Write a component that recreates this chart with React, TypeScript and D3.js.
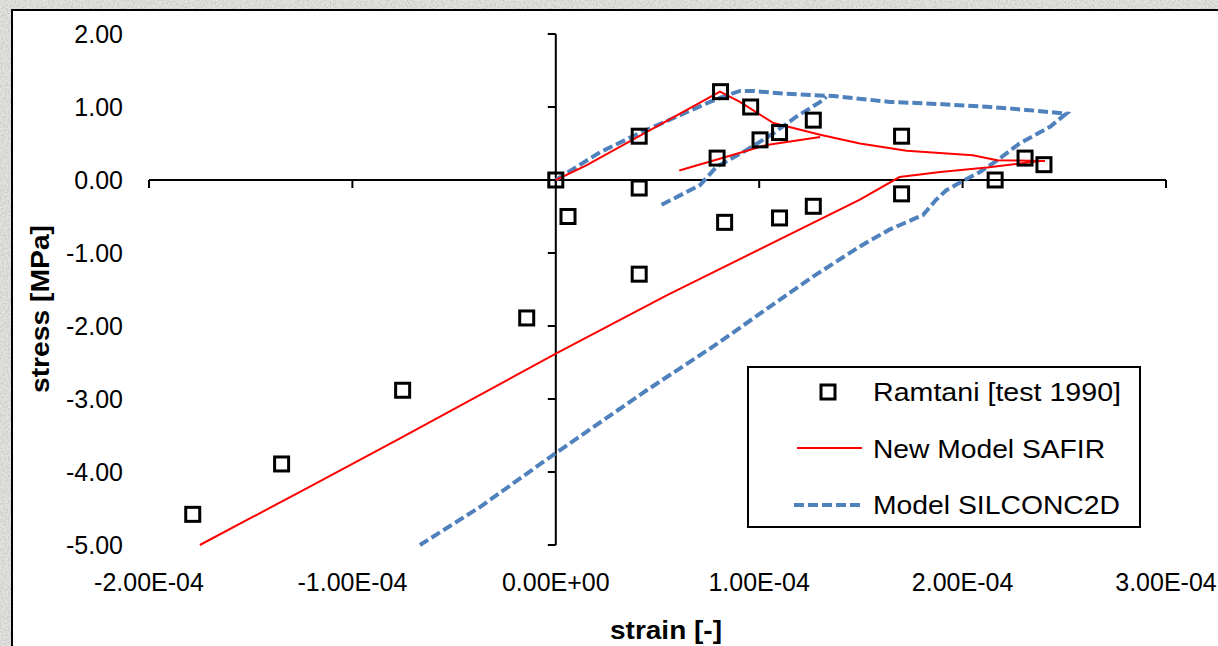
import React from 'react';
import * as d3 from 'd3';

// strain values in units of 1E-04, stress in MPa
const xTicks = [-2, -1, 0, 1, 2, 3];
const xTickLabels = ['-2.00E-04', '-1.00E-04', '0.00E+00', '1.00E-04', '2.00E-04', '3.00E-04'];
const yTicks = [2, 1, 0, -1, -2, -3, -4, -5];
const yTickLabels = ['2.00', '1.00', '0.00', '-1.00', '-2.00', '-3.00', '-4.00', '-5.00'];

const ramtaniStrain = [-1.785, -1.348, -0.753, -0.143, 0, 0.06, 0.41, 0.41, 0.41, 0.81, 0.793, 0.83, 0.958, 1.004, 1.1, 1.1, 1.266, 1.266, 1.7, 1.7, 2.16, 2.307, 2.4];
const ramtaniStress = [-4.58, -3.89, -2.88, -1.89, 0, -0.5, 0.6, -0.11, -1.29, 1.21, 0.3, -0.58, 1.0, 0.55, 0.65, -0.52, 0.82, -0.36, 0.6, -0.19, 0.0, 0.3, 0.21];

const safirStrain = [0, 0.15, 0.41, 0.807, 0.905, 1.07, 1.3, 1.495, 1.725, 2.05, 2.17, 2.405, 2.38, 2.12, 1.89, 1.69, 1.495, 0.545, 0, -0.766, -1.209, -1.75];
const safirStress = [0, 0.2, 0.6, 1.21, 1.07, 0.78, 0.62, 0.5, 0.4, 0.34, 0.27, 0.26, 0.26, 0.17, 0.11, 0.04, -0.27, -1.58, -2.38, -3.54, -4.2, -5.0];
const safirReloadStrain = [0.607, 0.793, 1.037, 1.3];
const safirReloadStress = [0.13, 0.28, 0.48, 0.59];

const silconcStrain = [0, 0.217, 0.41, 0.758, 0.84, 0.905, 0.97, 1.135, 1.364, 1.643, 1.89, 2.135, 2.314, 2.51, 2.43, 2.28, 2.17, 2.085, 2.01, 1.92, 1.87, 1.805, 1.64, 1.495, 1.266, 0.774, 0.447, 0, -0.373, -0.668];
const silconcStress = [0, 0.38, 0.64, 1.07, 1.16, 1.22, 1.22, 1.18, 1.15, 1.07, 1.04, 1.0, 0.96, 0.91, 0.73, 0.5, 0.27, 0.11, 0, -0.14, -0.27, -0.48, -0.68, -0.91, -1.32, -2.28, -2.88, -3.74, -4.48, -5.0];
const silconcReloadStrain = [0.52, 0.709, 0.79, 0.938, 1.07, 1.184, 1.3, 1.33];
const silconcReloadStress = [-0.34, -0.07, 0.18, 0.41, 0.64, 0.87, 1.07, 1.14];

const legendItems = ['Ramtani [test 1990]', 'New Model SAFIR', 'Model SILCONC2D'];

const W = 1218;
const H = 646;
const font = '"Liberation Sans", Arial, sans-serif';

const zip = (xs: number[], ys: number[]) => xs.map((v, i) => [v, ys[i]] as [number, number]);

export default function App() {
  const x = d3.scaleLinear().domain([-2, 3]).range([149, 1166]);
  const y = d3.scaleLinear().domain([-5, 2]).range([545, 34]);
  const line = d3.line<[number, number]>().x(d => x(d[0])).y(d => y(d[1]));

  const x0 = x(0);
  const y0 = y(0);

  return (
    <svg width={W} height={H} style={{ position: 'absolute', left: 0, top: 0 }} fontFamily={font}>
      <defs>
        <filter id="tex" x="0" y="0" width="100%" height="100%">
          <feTurbulence type="fractalNoise" baseFrequency="0.6" numOctaves="3" seed="4" result="n" />
          <feColorMatrix in="n" type="matrix" values="0 0 0 0 0.6  0 0 0 0 0.6  0 0 0 0 0.58  3 0 0 0 -1.2" />
        </filter>
      </defs>
      <rect x={0} y={0} width={W} height={H} fill="#e2e2de" />
      <rect x={0} y={0} width={W} height={H} filter="url(#tex)" />
      <rect x={12} y={10} width={W + 20} height={H + 20} fill="#fff" stroke="#000" strokeWidth={2} />

      {/* axes */}
      <line x1={x(-2)} x2={x(3)} y1={y0} y2={y0} stroke="#000" strokeWidth={2} />
      <line x1={x0} x2={x0} y1={y(2)} y2={y(-5)} stroke="#000" strokeWidth={2} />
      {xTicks.map(t => (
        <line key={'xt' + t} x1={x(t)} x2={x(t)} y1={y0} y2={y0 + 8} stroke="#000" strokeWidth={2} />
      ))}
      {yTicks.map(t => (
        <line key={'yt' + t} x1={x0 - 8} x2={x0} y1={y(t)} y2={y(t)} stroke="#000" strokeWidth={2} />
      ))}
      {xTicks.map((t, i) => (
        <text key={'xl' + t} x={x(t)} y={582} textAnchor="middle" dominantBaseline="central" fontSize={25} fill="#000">
          {xTickLabels[i]}
        </text>
      ))}
      {yTicks.map((t, i) => (
        <text key={'yl' + t} x={123} y={y(t)} textAnchor="end" dominantBaseline="central" fontSize={25} fill="#000">
          {yTickLabels[i]}
        </text>
      ))}

      {/* axis titles */}
      <text x={666} y={630} textAnchor="middle" dominantBaseline="central" fontSize={25} fontWeight="bold"
        textLength={112} lengthAdjust="spacingAndGlyphs">strain [-]</text>
      <text transform="translate(40,309) rotate(-90)" textAnchor="middle" dominantBaseline="central" fontSize={25}
        fontWeight="bold" textLength={168} lengthAdjust="spacingAndGlyphs">stress [MPa]</text>

      {/* series */}
      <path d={line(zip(silconcStrain, silconcStress)) || ''} fill="none" stroke="#4F81BD" strokeWidth={4} strokeDasharray="10,4" />
      <path d={line(zip(silconcReloadStrain, silconcReloadStress)) || ''} fill="none" stroke="#4F81BD" strokeWidth={4} strokeDasharray="10,4" />
      <path d={line(zip(safirStrain, safirStress)) || ''} fill="none" stroke="#FF0000" strokeWidth={2} />
      <path d={line(zip(safirReloadStrain, safirReloadStress)) || ''} fill="none" stroke="#FF0000" strokeWidth={2} />
      {ramtaniStrain.map((s, i) => (
        <rect key={'r' + i} x={x(s) - 7} y={y(ramtaniStress[i]) - 7} width={14} height={14} fill="none" stroke="#000" strokeWidth={3} />
      ))}

      {/* legend */}
      <rect x={748} y={367} width={392} height={160} fill="#fff" stroke="#000" strokeWidth={2} />
      <rect x={821} y={385} width={14} height={14} fill="none" stroke="#000" strokeWidth={3} />
      <line x1={797} x2={862} y1={448} y2={448} stroke="#FF0000" strokeWidth={2} />
      <line x1={794} x2={864} y1={505} y2={505} stroke="#4F81BD" strokeWidth={4} strokeDasharray="10,4" />
      {legendItems.map((t, i) => (
        <text key={t} x={873} y={392 + i * 56.5} dominantBaseline="central" fontSize={26} fill="#000"
          textLength={[248, 232, 247][i]} lengthAdjust="spacingAndGlyphs">{t}</text>
      ))}
    </svg>
  );
}
